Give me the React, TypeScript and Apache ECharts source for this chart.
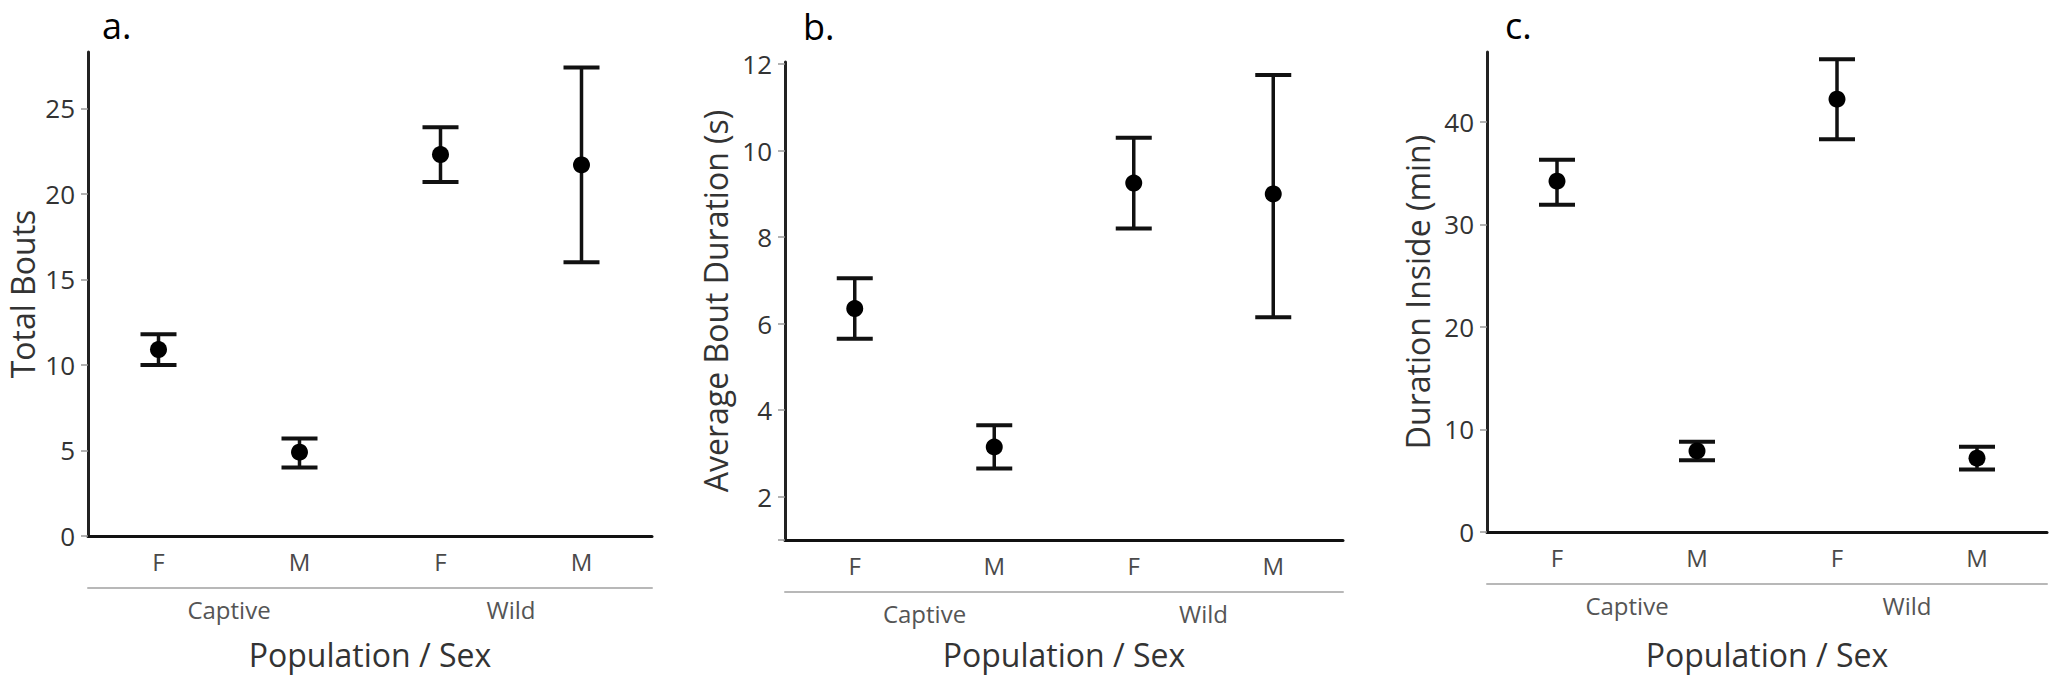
import React, { useEffect, useRef } from "react";
import * as echarts from "echarts";

const categories = ["F", "M", "F", "M"];
const populations = ["Captive", "Wild"];

const boutsMean = [10.9, 4.9, 22.3, 21.7];
const boutsLow = [10.0, 4.0, 20.7, 16.0];
const boutsHigh = [11.8, 5.7, 23.9, 27.4];

const durMean = [6.35, 3.15, 9.25, 9.0];
const durLow = [5.65, 2.65, 8.2, 6.15];
const durHigh = [7.05, 3.65, 10.3, 11.75];

const insideMean = [34.2, 7.9, 42.2, 7.2];
const insideLow = [31.9, 7.0, 38.3, 6.1];
const insideHigh = [36.3, 8.8, 46.1, 8.3];

const boutsTicks = [0, 5, 10, 15, 20, 25];
const durTicks = [2, 4, 6, 8, 10, 12];
const durTickMarks = [1, 2, 4, 6, 8, 10, 12];
const insideTicks = [0, 10, 20, 30, 40];

const panelLabels = ["a.", "b.", "c."];
const yTitles = ["Total Bouts", "Average Bout Duration (s)", "Duration Inside (min)"];
const xTitle = "Population / Sex";

const FONT = "'Open Sans', 'Noto Sans', sans-serif";

export default function App() {
  const ref = useRef<HTMLDivElement>(null);

  useEffect(() => {
    document.body.style.margin = "0";
    if (!ref.current) return;
    const chart = echarts.init(ref.current, null, { renderer: "svg" });

    const panels = [
      { left: 88, top: 52, width: 564, height: 484, min: 0, max: 28.3, labels: boutsTicks, ticks: boutsTicks, mean: boutsMean, low: boutsLow, high: boutsHigh, lx: 102, ly: 7, yGap: 50, xGap: 50 },
      { left: 785, top: 62, width: 558, height: 478, min: 1, max: 12.05, labels: durTicks, ticks: durTickMarks, mean: durMean, low: durLow, high: durHigh, lx: 803, ly: 8, yGap: 54, xGap: 46 },
      { left: 1487, top: 52, width: 560, height: 480, min: 0, max: 46.8, labels: insideTicks, ticks: insideTicks, mean: insideMean, low: insideLow, high: insideHigh, lx: 1505, ly: 7, yGap: 54, xGap: 54 },
    ];

    const grid: any[] = [];
    const xAxis: any[] = [];
    const yAxis: any[] = [];
    const series: any[] = [];
    const graphic: any[] = [];

    panels.forEach((p, i) => {
      grid.push({ left: p.left, top: p.top, width: p.width, height: p.height, containLabel: false, outerBoundsMode: "none" });
      xAxis.push({
        type: "category",
        gridIndex: i,
        data: categories,
        position: "bottom",
        axisLine: { lineStyle: { color: "#111", width: 3 } },
        axisTick: { show: false },
        axisLabel: { fontSize: 24, color: "#4a4a4a", margin: 13, fontFamily: FONT },
        splitLine: { show: false },
      });
      xAxis.push({
        type: "category",
        gridIndex: i,
        data: populations,
        position: "bottom",
        offset: 52,
        axisLine: { lineStyle: { color: "#b8b8b8", width: 2 } },
        axisTick: { show: false },
        axisLabel: { fontSize: 24, color: "#555", margin: 9, fontFamily: FONT },
        splitLine: { show: false },
        name: xTitle,
        nameLocation: "middle",
        nameGap: p.xGap,
        nameMoveOverlap: false,
        nameTextStyle: { fontSize: 32, color: "#333", fontFamily: FONT },
      });
      yAxis.push({
        type: "value",
        gridIndex: i,
        min: p.min,
        max: p.max,
        axisLine: { show: true, lineStyle: { color: "#222", width: 3 } },
        axisTick: { show: true, length: 7, lineStyle: { color: "#999", width: 1.5 }, customValues: p.ticks },
        axisLabel: { fontSize: 26, color: "#333", margin: 13, fontFamily: FONT, customValues: p.labels },
        splitLine: { show: false },
        name: yTitles[i],
        nameLocation: "middle",
        nameGap: p.yGap,
        nameRotate: 90,
        nameMoveOverlap: false,
        nameTextStyle: { fontSize: 32, color: "#333", fontFamily: FONT },
      });
      series.push({
        type: "custom",
        xAxisIndex: i * 2,
        yAxisIndex: i,
        data: p.mean.map((_, k) => [k, p.low[k], p.high[k]]),
        encode: { x: 0, y: [1, 2] },
        renderItem: (params: any, api: any) => {
          const x = api.value(0);
          const lo = api.coord([x, api.value(1)]);
          const hi = api.coord([x, api.value(2)]);
          const w = 18;
          const st = { stroke: "#111", lineWidth: 3.5, fill: null };
          const cap = { stroke: "#111", lineWidth: 4, fill: null };
          return {
            type: "group",
            children: [
              { type: "line", shape: { x1: lo[0], y1: lo[1], x2: hi[0], y2: hi[1] }, style: st },
              { type: "line", shape: { x1: hi[0] - w, y1: hi[1], x2: hi[0] + w, y2: hi[1] }, style: cap },
              { type: "line", shape: { x1: lo[0] - w, y1: lo[1], x2: lo[0] + w, y2: lo[1] }, style: cap },
            ],
          };
        },
        z: 2,
      });
      series.push({
        type: "scatter",
        xAxisIndex: i * 2,
        yAxisIndex: i,
        data: p.mean,
        symbol: "circle",
        symbolSize: 17,
        itemStyle: { color: "#000", opacity: 1 },
        z: 3,
      });
      graphic.push({
        type: "text",
        left: p.lx,
        top: p.ly,
        style: { text: panelLabels[i], font: `36px ${FONT}`, fill: "#000" },
      });
    });

    chart.setOption({
      animation: false,
      backgroundColor: "#fff",
      grid,
      xAxis,
      yAxis,
      series,
      graphic,
    });

    return () => chart.dispose();
  }, []);

  return <div ref={ref} style={{ width: 2050, height: 679 }} />;
}
